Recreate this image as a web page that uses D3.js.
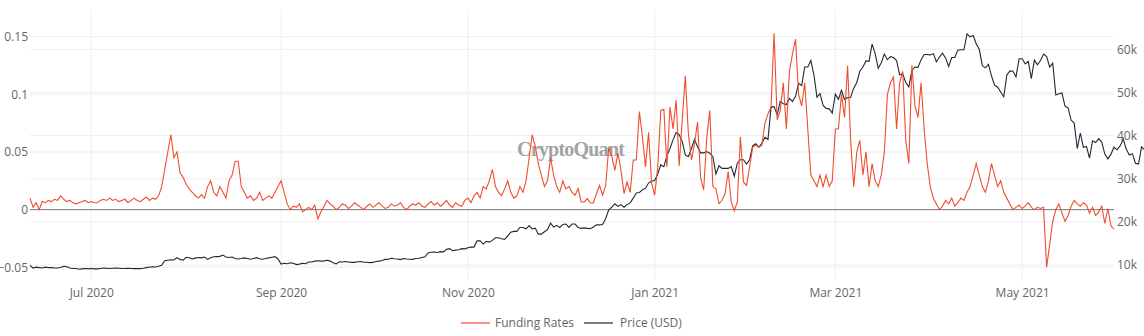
<!DOCTYPE html>
<html>
<head>
<meta charset="utf-8">
<script src="https://cdn.jsdelivr.net/npm/d3@7"></script>
<style>
  html, body { margin: 0; padding: 0; background: #fff; }
  svg { display: block; font-family: "Open Sans", "DejaVu Sans", sans-serif; }
</style>
</head>
<body>
<svg id="chart" width="1144" height="336"></svg>
<script>
// Daily series, first day 2020-06-11
const startDate = "2020-06-11";

const fundingRates = [
  0.010, 0.002, 0.006, 0.000, 0.007, 0.006, 0.008, 0.007, 0.009, 0.008,
  0.012, 0.009, 0.007, 0.008, 0.006, 0.005, 0.006, 0.007, 0.008, 0.006,
  0.007, 0.006, 0.006, 0.008, 0.009, 0.008, 0.010, 0.008, 0.009, 0.007,
  0.008, 0.009, 0.006, 0.008, 0.010, 0.008, 0.007, 0.009, 0.011, 0.008,
  0.010, 0.009, 0.012, 0.020, 0.035, 0.050, 0.065, 0.045, 0.050, 0.032,
  0.028, 0.022, 0.018, 0.015, 0.012, 0.010, 0.013, 0.010, 0.020, 0.025,
  0.015, 0.012, 0.020, 0.015, 0.010, 0.025, 0.030, 0.042, 0.042, 0.020,
  0.015, 0.010, 0.012, 0.008, 0.010, 0.015, 0.008, 0.010, 0.012, 0.010,
  0.015, 0.020, 0.025, 0.015, 0.005, 0.000, 0.003, 0.002, 0.005, -0.002,
  0.000, 0.002, 0.000, 0.004, -0.008, -0.002, 0.003, 0.008, 0.005, 0.003,
  0.000, 0.002, 0.005, 0.004, 0.001, 0.003, 0.006, 0.004, 0.002, 0.000,
  0.003, 0.005, 0.002, 0.004, 0.006, 0.003, 0.001, 0.002, 0.005, 0.003,
  0.004, 0.006, 0.002, 0.000, 0.003, 0.005, 0.004, 0.006, 0.003, 0.002,
  0.005, 0.007, 0.004, 0.006, 0.003, 0.005, 0.008, 0.004, 0.002, 0.006,
  0.004, 0.003, 0.008, 0.010, 0.006, 0.012, 0.015, 0.010, 0.020, 0.018,
  0.025, 0.035, 0.020, 0.015, 0.012, 0.018, 0.025, 0.015, 0.010, 0.012,
  0.020, 0.015, 0.025, 0.045, 0.065, 0.055, 0.040, 0.030, 0.020, 0.025,
  0.045, 0.030, 0.020, 0.015, 0.025, 0.018, 0.020, 0.015, 0.0125, 0.0183,
  0.0067, 0.0067, 0.0096, 0.0058, 0.0058, 0.014, 0.021, 0.0125, 0.021, 0.054,
  0.046, 0.034, 0.049, 0.034, 0.014, 0.024, 0.015, 0.043, 0.043, 0.085,
  0.063, 0.037, 0.067, 0.023, 0.0125, 0.037, 0.086, 0.087, 0.037, 0.089,
  0.070, 0.095, 0.038, 0.078, 0.116, 0.066, 0.043, 0.057, 0.076, 0.028,
  0.017, 0.062, 0.086, 0.020, 0.018, 0.0052, 0.0081, 0.014, 0.033, 0.0067,
  -0.001, 0.0067, 0.063, 0.024, 0.021, 0.037, 0.054, 0.056, 0.054, 0.056,
  0.075, 0.083, 0.089, 0.153, 0.078, 0.086, 0.110, 0.070, 0.120, 0.135,
  0.148, 0.100, 0.090, 0.110, 0.070, 0.030, 0.025, 0.020, 0.030, 0.020,
  0.030, 0.020, 0.025, 0.070, 0.070, 0.100, 0.080, 0.125, 0.060, 0.020,
  0.050, 0.060, 0.030, 0.050, 0.020, 0.040, 0.025, 0.020, 0.030, 0.050,
  0.100, 0.110, 0.115, 0.070, 0.110, 0.120, 0.060, 0.040, 0.125, 0.090,
  0.080, 0.110, 0.070, 0.040, 0.020, 0.010, 0.005, 0.000, 0.003, 0.008,
  0.005, 0.010, 0.003, 0.006, 0.010, 0.008, 0.015, 0.020, 0.030, 0.040,
  0.030, 0.020, 0.015, 0.025, 0.040, 0.030, 0.020, 0.025, 0.015, 0.010,
  0.005, 0.000, 0.002, 0.004, 0.001, 0.003, 0.006, 0.002, 0.000, 0.002,
  0.001, 0.002, -0.050, -0.030, -0.010, 0.000, 0.005, -0.003, -0.010, -0.005,
  0.003, 0.008, 0.005, 0.003, 0.006, 0.004, -0.003, 0.002, -0.005, -0.002,
  0.003, -0.012, 0.001, -0.014, -0.017
];

const prices = [
  9900, 9300, 9500, 9400, 9300, 9500, 9400, 9400, 9300, 9300,
  9400, 9700, 9600, 9300, 9200, 9200, 9000, 9100, 9200, 9100,
  9200, 9100, 9100, 9200, 9300, 9250, 9200, 9250, 9300, 9250,
  9200, 9200, 9250, 9200, 9150, 9200, 9150, 9250, 9400, 9550,
  9600, 9550, 9700, 9950, 11000, 11100, 11200, 11150, 11700, 11300,
  11100, 11800, 11700, 11400, 11600, 11750, 11650, 11850, 11300, 11700,
  11900, 11950, 12000, 12300, 11850, 11750, 11850, 11500, 11400, 11500,
  11650, 11500, 11350, 11500, 11700, 11450, 11350, 11500, 11650, 11800,
  11950, 11400, 10200, 10400, 10300, 10500, 10400, 10100, 10200, 10400,
  10300, 10700, 10700, 10900, 11000, 10900, 10950, 11100, 10900, 10500,
  10250, 10750, 10700, 10800, 10700, 10600, 10600, 10750, 10800, 10650,
  10650, 10550, 10600, 10800, 10900, 11050, 11300, 11350, 11550, 11450,
  11400, 11250, 11500, 11400, 11350, 11300, 11500, 11550, 11750, 11900,
  12800, 12950, 13000, 12900, 13100, 13050, 13650, 13800, 13300, 13450,
  13550, 13800, 13750, 14000, 14150, 14150, 15600, 15600, 14850, 15500,
  15300, 15700, 16300, 16300, 16100, 15950, 16700, 17600, 17800, 17800,
  18700, 18700, 18400, 19150, 18350, 18550, 17150, 17150, 17700, 18200,
  19700, 18800, 19200, 18700, 19400, 19500, 18700, 19500, 19500, 18700,
  18500, 18600, 18500, 18400, 18800, 19300, 19300, 19400, 20800, 22800,
  23400, 24200, 23600, 24000, 23400, 24000, 24400, 25500, 26700, 26800,
  27400, 27800, 29000, 29400, 29600, 31100, 33200, 32800, 35300, 37000,
  39000, 40700, 40200, 38600, 35500, 35100, 37000, 39100, 37400, 36000,
  36000, 36300, 35900, 35100, 31100, 33000, 32400, 32400, 32400, 32800,
  30600, 33600, 34400, 34400, 33400, 34400, 37600, 38100, 37300, 38200,
  39600, 39100, 46600, 46700, 44800, 47900, 47400, 47200, 48600, 47900,
  49100, 52100, 51600, 55900, 55900, 57400, 54100, 48900, 49700, 47000,
  46300, 46200, 45200, 49600, 48400, 50500, 48400, 48800, 48900, 51000,
  52300, 54900, 55900, 57300, 57200, 61200, 59000, 55600, 56900, 58900,
  57600, 58300, 58100, 57400, 54100, 54300, 52300, 51300, 55100, 55900,
  55800, 57600, 58800, 58800, 58700, 59000, 57100, 58200, 59100, 58000,
  56000, 58100, 58100, 59800, 59900, 59900, 63600, 62900, 63200, 61300,
  60000, 56200, 55700, 56500, 53800, 51700, 51200, 50100, 49000, 54000,
  55000, 54900, 53600, 57800, 57800, 56600, 57200, 53200, 57500, 56400,
  57400, 58900, 58300, 55900, 56800, 49400, 49700, 49900, 46800, 46400,
  43600, 42900, 37000, 40600, 37300, 37500, 34800, 38800, 38400, 39300,
  38500, 35700, 34600, 35700, 37300, 36700, 37600, 39200, 36900, 35500,
  35800, 33600, 33400, 37400, 36700
];

const leftTicks = [-0.05, 0, 0.05, 0.1, 0.15];
const rightTicks = [10000, 20000, 30000, 40000, 50000, 60000];
const xTickDates = ["2020-07-01", "2020-09-01", "2020-11-01", "2021-01-01", "2021-03-01", "2021-05-01"];
const seriesNames = ["Funding Rates", "Price (USD)"];
const seriesColors = ["#ef4d2e", "#1e2935"];

const parse = d3.utcParse("%Y-%m-%d");
const t0 = parse(startDate);
const dayAt = i => d3.utcDay.offset(t0, i);

const svg = d3.select("#chart");
const plot = { left: 30, right: 1114, top: 10, bottom: 282 };

const x = d3.scaleUtc()
  .domain([t0, dayAt(fundingRates.length - 1)])
  .range([plot.left, plot.right]);

// left: funding rate; right: price
const yL = d3.scaleLinear().domain([-0.05, 0.15]).range([267.3, 36.7]);
const yR = d3.scaleLinear().domain([10000, 60000]).range([265, 49.3]);

const grid = svg.append("g");
// horizontal grid (both axes)
grid.selectAll(".gl").data(leftTicks.filter(d => d !== 0)).join("line")
  .attr("x1", plot.left).attr("x2", plot.right)
  .attr("y1", d => yL(d)).attr("y2", d => yL(d))
  .attr("stroke", "#eeeeee").attr("stroke-width", 1);
grid.selectAll(".gr").data(rightTicks).join("line")
  .attr("x1", plot.left).attr("x2", plot.right)
  .attr("y1", d => yR(d)).attr("y2", d => yR(d))
  .attr("stroke", "#eeeeee").attr("stroke-width", 1);
// vertical grid
const xTicks = xTickDates.map(parse);
grid.selectAll(".gx").data(xTicks).join("line")
  .attr("x1", d => x(d)).attr("x2", d => x(d))
  .attr("y1", plot.top).attr("y2", plot.bottom)
  .attr("stroke", "#eeeeee").attr("stroke-width", 1);

// watermark
svg.append("text")
  .attr("x", 571).attr("y", 156)
  .attr("text-anchor", "middle")
  .attr("font-family", "'Liberation Serif', 'DejaVu Serif', serif")
  .attr("font-weight", "bold")
  .attr("font-size", 20)
  .attr("textLength", 108)
  .attr("fill", "#a3a3a3")
  .text("CryptoQuant");

// zero line
svg.append("line")
  .attr("x1", plot.left).attr("x2", plot.right)
  .attr("y1", yL(0)).attr("y2", yL(0))
  .attr("stroke", "#777").attr("stroke-width", 1);

// axes
const axL = d3.axisLeft(yL).tickValues(leftTicks).tickSize(0).tickPadding(2)
  .tickFormat(d => d3.format("~g")(d));
svg.append("g").attr("transform", `translate(${plot.left},0)`).call(axL)
  .call(g => g.select(".domain").remove());

const axR = d3.axisRight(yR).tickValues(rightTicks).tickSize(0).tickPadding(3)
  .tickFormat(d => (d / 1000) + "k");
svg.append("g").attr("transform", `translate(${plot.right},0)`).call(axR)
  .call(g => g.select(".domain").remove());

const axX = d3.axisBottom(x).tickValues(xTicks).tickSize(0).tickPadding(6)
  .tickFormat(d3.utcFormat("%b %Y"));
svg.append("g").attr("transform", `translate(0,${plot.bottom})`).call(axX)
  .call(g => g.select(".domain").remove());

svg.selectAll(".tick text")
  .attr("font-family", "'Open Sans', 'DejaVu Sans', sans-serif")
  .attr("font-size", 12)
  .attr("fill", "#666");

// series
const lineRate = d3.line().x((d, i) => x(dayAt(i))).y(d => yL(d));
const linePrice = d3.line().x((d, i) => x(dayAt(i))).y(d => yR(d));

svg.append("path").datum(prices)
  .attr("d", linePrice).attr("fill", "none")
  .attr("stroke", seriesColors[1]).attr("stroke-width", 1.1);
svg.append("path").datum(fundingRates)
  .attr("d", lineRate).attr("fill", "none")
  .attr("stroke", seriesColors[0]).attr("stroke-width", 1.1);

// legend
const legend = svg.append("g").attr("font-size", 12).attr("fill", "#666");
const legendItems = [{ x: 461, tx: 495 }, { x: 584, tx: 620 }];
seriesNames.forEach((name, i) => {
  legend.append("line")
    .attr("x1", legendItems[i].x).attr("x2", legendItems[i].x + 29)
    .attr("y1", 323).attr("y2", 323)
    .attr("stroke", seriesColors[i]).attr("stroke-width", 1.2);
  legend.append("text")
    .attr("x", legendItems[i].tx).attr("y", 327)
    .attr("font-family", "'Open Sans', 'DejaVu Sans', sans-serif")
    .text(name);
});
</script>
</body>
</html>
